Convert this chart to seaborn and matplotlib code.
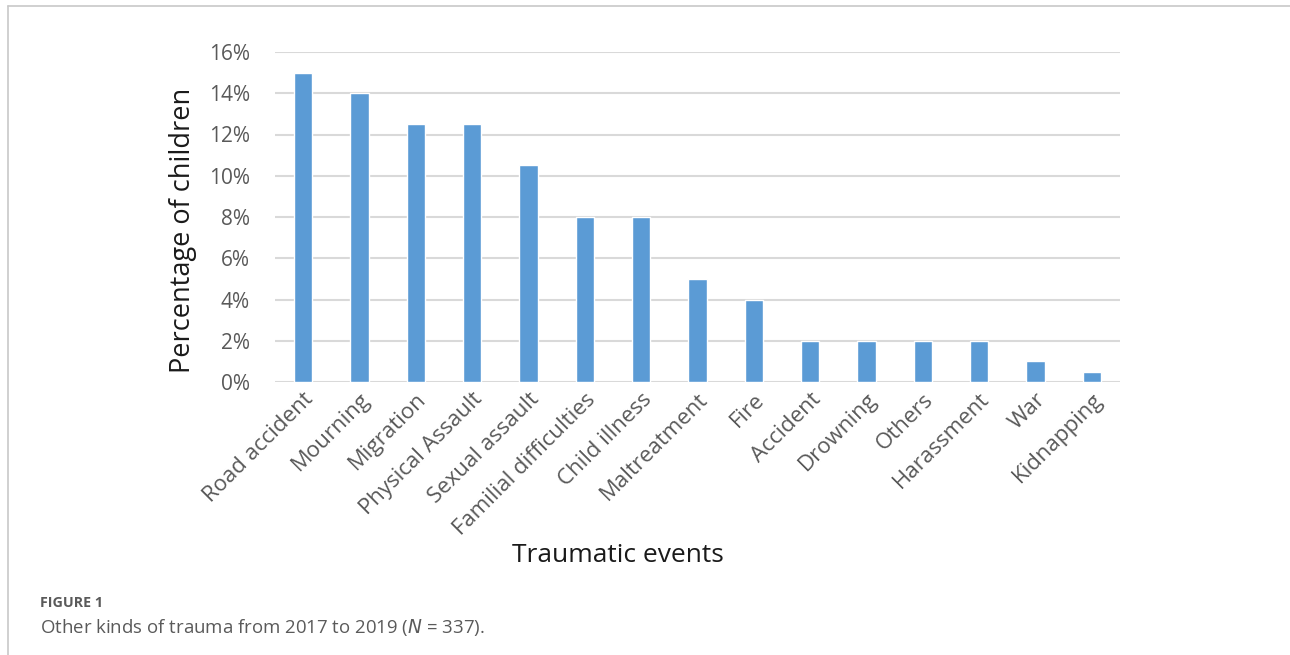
import seaborn as sns
import matplotlib.pyplot as plt
from matplotlib.lines import Line2D

# Data
events = ["Road accident", "Mourning", "Migration", "Physical Assault", "Sexual assault",
          "Familial difficulties", "Child illness", "Maltreatment", "Fire", "Accident",
          "Drowning", "Others", "Harassment", "War", "Kidnapping"]
percent = [15, 14, 12.5, 12.5, 10.5, 8, 8, 5, 4, 2, 2, 2, 2, 1, 0.5]
yticks = [0, 2, 4, 6, 8, 10, 12, 14, 16]

sns.set_style("white")
plt.rcParams['font.family'] = ['Open Sans', 'DejaVu Sans']

fig = plt.figure(figsize=(12.9, 6.55), dpi=100)
ax = fig.add_axes([275 / 1290, 1 - 382 / 655, 845 / 1290, 330 / 655])

sns.barplot(x=events, y=percent, color="#5B9BD5", width=0.32, saturation=1, ax=ax)

ax.set_xlim(-0.5, len(events) - 0.5)
ax.set_ylim(0, 16)
ax.set_yticks(yticks)
ax.set_yticklabels([f"{t}%" for t in yticks], color="#595959", fontsize=15)
ax.yaxis.grid(True, color="#d9d9d9", linewidth=1.5)
ax.set_axisbelow(True)
for s in ax.spines.values():
    s.set_visible(False)
ax.tick_params(axis="both", length=0)
ax.tick_params(axis="y", pad=18)
ax.tick_params(axis="x", pad=5)
for lbl in ax.get_xticklabels():
    lbl.set_rotation(45)
    lbl.set_ha("right")
    lbl.set_rotation_mode("anchor")
    lbl.set_color("#595959")
    lbl.set_fontsize(16)

ax.set_ylabel("Percentage of children", fontsize=19.5, color="#1a1a1a")
ax.yaxis.set_label_coords(-0.092, 0.46)
ax.set_xlabel("")
fig.text(618 / 1290, 1 - 555 / 655, "Traumatic events", fontsize=19, color="#1a1a1a",
         ha="center", va="center")

# frame lines of the figure panel
fig.add_artist(Line2D([8 / 1290, 1], [1 - 6 / 655] * 2, color="#c8c8c8", linewidth=1.2))
fig.add_artist(Line2D([8 / 1290] * 2, [0, 1 - 6 / 655], color="#c8c8c8", linewidth=1.2))

# caption
fig.text(40 / 1290, 1 - 603 / 655, "FIGURE 1", fontsize=10.3, fontweight="bold",
         color="#5a5a5a", va="center")
fig.text(40 / 1290, 1 - 627 / 655, "Other kinds of trauma from 2017 to 2019 ($\\it{N}$ = 337).",
         fontsize=13.4, color="#5a5a5a", va="center")

plt.savefig("out.png", dpi=100)
